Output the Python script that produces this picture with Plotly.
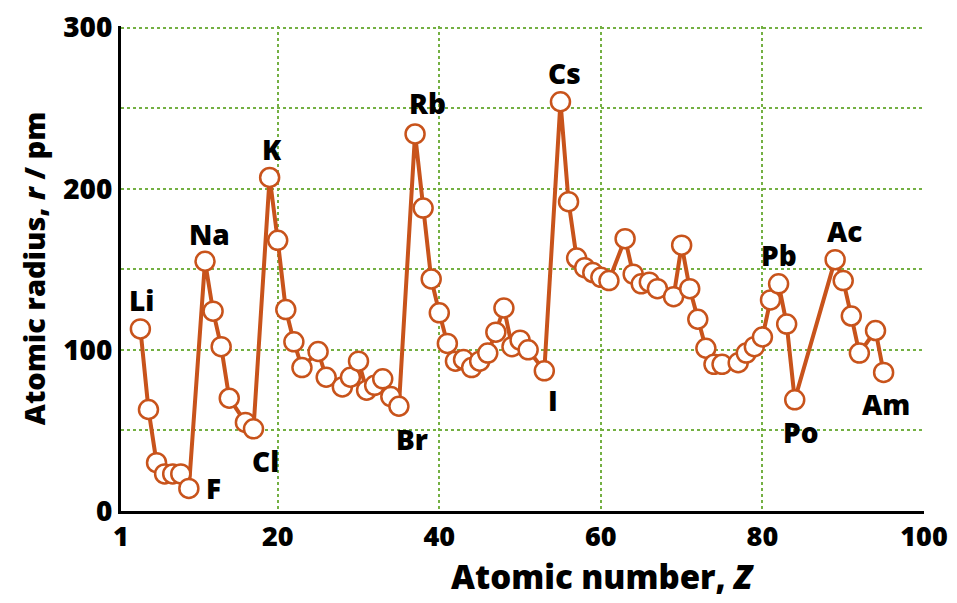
import plotly.graph_objects as go

# ---- data ----
atomic_number = [3, 4, 5, 6, 7, 8, 9,
                 11, 12, 13, 14, 16, 17,
                 19, 20, 21, 22, 23, 25, 26, 28, 29, 30, 31, 32, 33, 34, 35,
                 37, 38, 39, 40, 41, 42, 43, 44, 45, 46, 47, 48, 49, 50, 51, 53,
                 55, 56, 57, 58, 59, 60, 61, 63, 64, 65, 66, 67, 69, 70, 71, 72,
                 73, 74, 75, 77, 78, 79, 80, 81, 82, 83, 84,
                 89, 90, 91, 92, 94, 95]
radius_pm = [113, 63, 30, 23, 23, 23, 14,
             155, 124, 102, 70, 55, 51,
             207, 168, 125, 105, 89, 99, 83, 77, 83, 93, 75, 78, 82, 71, 65,
             234, 188, 144, 123, 104, 93, 94, 89, 93, 98, 111, 126, 102, 106, 100, 87,
             254, 192, 157, 151, 148, 145, 143, 169, 147, 141, 142, 138, 133, 165, 138, 119,
             101, 91, 91, 92, 98, 102, 108, 131, 141, 116, 69,
             156, 143, 121, 98, 112, 86]

label_symbols = ["Li", "Na", "K", "F", "Cl", "Br", "Rb", "I", "Cs", "Pb", "Po", "Ac", "Am"]
label_z = [3, 11, 19, 9, 17, 35, 37, 53, 55, 82, 84, 89, 95]

x_tick_values = [0.6, 20, 40, 60, 80, 100]
x_tick_text = ["1", "20", "40", "60", "80", "100"]
y_tick_values = [0, 50, 100, 150, 200, 250, 300]
y_tick_text = ["0", "", "100", "", "200", "", "300"]

# ---- styling ----
line_color = "#c8531b"
grid_color = "#74b043"
font_family = "Open Sans, Noto Sans, sans-serif"
bold = 800
label_offsets = {  # (xshift, yshift) in px
    "Li": (1, 29), "Na": (4, 27), "K": (2, 28), "F": (25, 0), "Cl": (12, -32),
    "Br": (13, -33), "Rb": (12, 31), "I": (9, -29), "Cs": (4, 29), "Pb": (0, 29),
    "Po": (6, -32), "Ac": (9, 29), "Am": (2, -32),
}

fig = go.Figure()
fig.add_trace(go.Scatter(
    x=atomic_number, y=radius_pm, mode="lines+markers",
    line=dict(color=line_color, width=4),
    marker=dict(size=19, color="white", line=dict(color=line_color, width=2.5)),
    showlegend=False, hoverinfo="x+y",
))

lookup = dict(zip(atomic_number, radius_pm))
annotations = []
for sym, z in zip(label_symbols, label_z):
    dx, dy = label_offsets[sym]
    annotations.append(dict(
        x=z, y=lookup[z], xref="x", yref="y", text=sym, showarrow=False,
        xshift=dx, yshift=dy,
        font=dict(family=font_family, size=28, color="black", weight=bold),
    ))

annotations.append(dict(
    x=0.6, y=-0.135, xref="paper", yref="paper", showarrow=False,
    text="Atomic number, <i>Z</i>", xanchor="center", yanchor="middle",
    font=dict(family=font_family, size=33, color="black", weight=bold),
))

fig.update_layout(
    width=957, height=603,
    margin=dict(l=113, r=41, t=18, b=100),
    paper_bgcolor="white", plot_bgcolor="white",
    annotations=annotations,
    xaxis=dict(
        range=[0.6, 100], tickvals=x_tick_values, ticktext=x_tick_text,
        showgrid=True, gridcolor=grid_color, griddash="dot", gridwidth=2,
        showline=True, linecolor="black", linewidth=3, ticks="", zeroline=False,
        ticklabeloverflow="allow", automargin=False,
        tickfont=dict(family=font_family, size=27, color="black", weight=bold),
    ),
    yaxis=dict(
        range=[0, 301], tickvals=y_tick_values, ticktext=y_tick_text,
        showgrid=True, gridcolor=grid_color, griddash="dot", gridwidth=2,
        showline=True, linecolor="black", linewidth=3, ticks="", zeroline=False,
        ticklabeloverflow="allow", automargin=False,
        tickfont=dict(family=font_family, size=28, color="black", weight=bold),
        title=dict(text="Atomic radius, <i>r</i> / pm", standoff=10,
                   font=dict(family=font_family, size=29, color="black", weight=bold)),
    ),
)

fig.write_html("out.html")
